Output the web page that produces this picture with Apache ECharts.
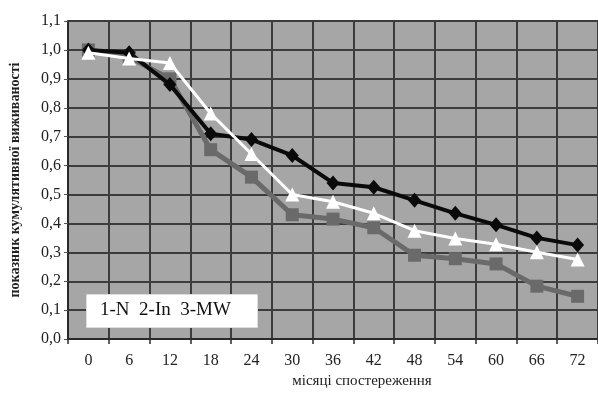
<!DOCTYPE html>
<html>
<head>
<meta charset="utf-8">
<script src="https://cdn.jsdelivr.net/npm/echarts@6/dist/echarts.min.js"></script>
<style>
  html, body { margin: 0; padding: 0; background: #fff; }
  #chart { width: 598px; height: 394px; }
</style>
</head>
<body>
<div id="chart"></div>
<script>
// місяці спостереження
var months = ['0', '6', '12', '18', '24', '30', '36', '42', '48', '54', '60', '66', '72'];
// 1-N
var seriesN = [1.00, 0.99, 0.88, 0.71, 0.69, 0.635, 0.54, 0.525, 0.48, 0.435, 0.395, 0.35, 0.325];
// 2-In
var seriesIn = [1.00, 0.975, 0.90, 0.655, 0.56, 0.43, 0.415, 0.385, 0.29, 0.278, 0.26, 0.183, 0.148];
// 3-MW
var seriesMW = [0.99, 0.97, 0.955, 0.78, 0.64, 0.50, 0.475, 0.435, 0.375, 0.348, 0.328, 0.30, 0.275];

var serif = '"Liberation Serif", "DejaVu Serif", serif';
var gridColor = '#3c3c3c';

var chart = echarts.init(document.getElementById('chart'));
chart.setOption({
  animation: false,
  backgroundColor: '#ffffff',
  grid: {
    left: 64,
    top: 21,
    right: -10,
    bottom: 47,
    show: true,
    backgroundColor: '#a6a6a6',
    borderWidth: 0
  },
  xAxis: {
    type: 'category',
    data: months,
    boundaryGap: true,
    name: 'місяці спостереження',
    nameLocation: 'middle',
    nameGap: 32,
    nameTextStyle: { fontFamily: serif, fontSize: 15, color: '#222', padding: [0, 0, 0, 58] },
    axisLine: { lineStyle: { color: '#2a2a2a', width: 2 } },
    axisTick: { show: true, interval: 0, length: 5, lineStyle: { color: '#2a2a2a', width: 1.5 } },
    axisLabel: { interval: 0, fontFamily: serif, fontSize: 16, color: '#222', margin: 14 },
    splitLine: { show: true, interval: 0, lineStyle: { color: gridColor, width: 2 } }
  },
  yAxis: {
    type: 'value',
    min: 0,
    max: 1.1,
    interval: 0.1,
    name: 'показник кумулятивної виживаності',
    nameLocation: 'middle',
    nameGap: 46,
    nameRotate: 90,
    nameTextStyle: { fontFamily: serif, fontSize: 14, fontWeight: 'bold', color: '#222' },
    axisLine: { show: true, lineStyle: { color: '#2a2a2a', width: 2 } },
    axisTick: { show: true, length: 4, lineStyle: { color: '#555', width: 1 } },
    axisLabel: {
      fontFamily: serif, fontSize: 16, color: '#222', margin: 7,
      formatter: function (v) { return v.toFixed(1).replace('.', ','); }
    },
    splitLine: { show: true, lineStyle: { color: gridColor, width: 2 } }
  },
  series: [
    {
      name: '2-In',
      type: 'line',
      data: seriesIn,
      symbol: 'rect',
      symbolSize: 13,
      lineStyle: { color: '#6a6a6a', width: 5 },
      itemStyle: { color: '#6a6a6a' },
      z: 2
    },
    {
      name: '1-N',
      type: 'line',
      data: seriesN,
      symbol: 'diamond',
      symbolSize: [13, 15],
      lineStyle: { color: '#0a0a0a', width: 4 },
      itemStyle: { color: '#0a0a0a' },
      z: 3
    },
    {
      name: '3-MW',
      type: 'line',
      data: seriesMW,
      symbol: 'triangle',
      symbolSize: 14,
      lineStyle: { color: '#ffffff', width: 3 },
      itemStyle: { color: '#ffffff' },
      z: 4
    }
  ],
  graphic: [
    {
      type: 'rect',
      left: 86,
      top: 294,
      shape: { width: 171, height: 33 },
      style: { fill: '#ffffff', stroke: '#dddddd', lineWidth: 1 },
      z: 10
    },
    {
      type: 'text',
      left: 100,
      top: 301,
      style: { text: '1-N  2-In  3-MW', fontFamily: serif, fontSize: 19, fill: '#111' },
      z: 11
    }
  ]
});
</script>
</body>
</html>
